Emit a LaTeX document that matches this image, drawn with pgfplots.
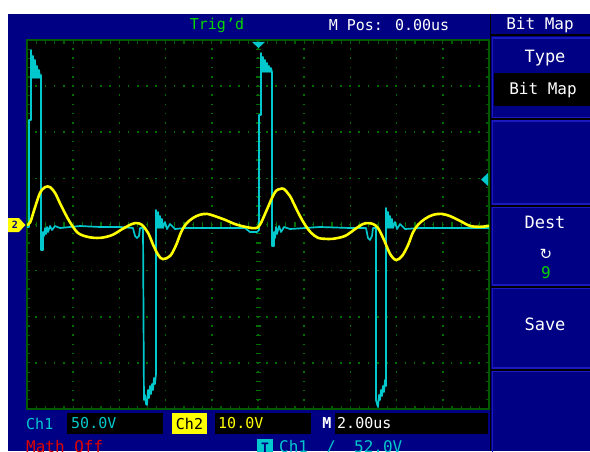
\documentclass[border=0pt]{standalone}
\usepackage{pgfplots}
\pgfplotsset{compat=1.18}
\usepackage{pgfplotstable}
\usepackage{fontspec}
\setmainfont{DejaVu Sans Mono}
\newfontfamily\symfont{DejaVu Sans}
\definecolor{scopeblue}{RGB}{0,0,132}
\definecolor{boxedge}{RGB}{25,25,190}
\definecolor{gridgreen}{RGB}{0,110,0}
\definecolor{bordergreen}{RGB}{0,90,0}
\definecolor{chcyan}{RGB}{0,200,205}
\definecolor{chyellow}{RGB}{255,255,0}
\definecolor{triggreen}{RGB}{0,215,0}
\definecolor{mathred}{RGB}{225,0,0}

% Ch1 (cyan) trace, x in divisions (2 us/div), y in divisions
\pgfplotstableread{
x y
0.000 -0.054
0.043 -0.054
0.043 2.266
0.087 2.266
0.087 3.783
0.108 3.176
0.130 3.653
0.152 3.176
0.173 3.566
0.195 3.176
0.216 3.436
0.238 3.176
0.260 3.350
0.281 3.176
0.303 3.241
0.303 -0.553
0.346 -0.553
0.346 -0.163
0.368 -0.249
0.390 -0.076
0.411 -0.206
0.433 -0.054
0.455 -0.163
0.498 -0.033
0.541 -0.119
0.606 -0.033
0.714 -0.076
1.147 -0.033
1.580 -0.054
2.013 -0.054
2.294 -0.076
2.338 -0.249
2.381 -0.293
2.424 -0.249
2.446 -0.076
2.511 -0.076
2.532 -3.805
2.554 -3.696
2.576 -3.892
2.597 -3.913
2.619 -3.588
2.641 -3.761
2.662 -3.501
2.684 -3.675
2.706 -3.458
2.727 -3.588
2.749 -3.328
2.771 -3.458
2.792 -3.241
2.792 0.314
2.814 -0.076
2.835 0.271
2.857 -0.076
2.879 0.184
2.900 -0.076
2.922 0.119
2.944 -0.076
2.987 0.054
3.030 -0.098
3.095 0.011
3.203 -0.098
3.420 -0.076
3.745 -0.076
4.177 -0.076
4.719 -0.076
4.827 -0.163
4.978 -0.163
5.022 -0.119
5.022 2.374
5.065 2.374
5.065 3.718
5.087 3.306
5.108 3.631
5.130 3.306
5.152 3.566
5.173 3.306
5.195 3.501
5.216 3.306
5.238 3.436
5.260 3.306
5.281 3.393
5.303 3.306
5.303 -0.466
5.346 -0.466
5.346 -0.163
5.368 -0.293
5.390 -0.054
5.411 -0.206
5.455 -0.033
5.498 -0.163
5.563 -0.054
5.693 -0.098
6.342 -0.054
6.991 -0.076
7.338 -0.076
7.381 -0.293
7.424 -0.336
7.468 -0.249
7.489 -0.076
7.554 -0.076
7.554 -3.805
7.576 -3.892
7.597 -3.957
7.619 -3.696
7.641 -3.805
7.662 -3.588
7.684 -3.718
7.706 -3.501
7.727 -3.631
7.749 -3.371
7.771 -3.501
7.771 0.358
7.792 -0.076
7.814 0.271
7.835 -0.076
7.857 0.184
7.879 -0.076
7.900 0.119
7.922 -0.076
7.965 0.054
8.009 -0.098
8.074 0.011
8.182 -0.098
8.506 -0.076
9.156 -0.076
10.000 -0.076
}\chone

% Ch2 (yellow) trace
\pgfplotstableread{
x y
0.00 -0.01
0.07 0.05
0.17 0.36
0.28 0.68
0.39 0.81
0.50 0.81
0.61 0.68
0.71 0.47
0.82 0.25
0.93 0.05
1.10 -0.18
1.32 -0.27
1.58 -0.29
1.84 -0.23
2.06 -0.10
2.27 0.01
2.38 0.03
2.49 -0.01
2.62 -0.18
2.73 -0.44
2.84 -0.66
2.94 -0.75
3.10 -0.68
3.23 -0.44
3.33 -0.18
3.44 0.01
3.59 0.14
3.74 0.21
3.90 0.23
4.07 0.18
4.29 0.10
4.50 0.01
4.72 -0.05
4.94 -0.08
5.04 -0.01
5.17 0.27
5.30 0.57
5.39 0.73
5.48 0.77
5.56 0.77
5.69 0.62
5.80 0.40
5.91 0.18
6.02 -0.01
6.15 -0.18
6.30 -0.29
6.45 -0.31
6.62 -0.31
6.88 -0.25
7.10 -0.10
7.27 0.01
7.38 0.03
7.49 0.01
7.60 -0.08
7.73 -0.34
7.86 -0.64
7.99 -0.77
8.12 -0.68
8.25 -0.44
8.35 -0.18
8.46 -0.01
8.61 0.12
8.79 0.21
8.98 0.23
9.16 0.18
9.37 0.08
9.59 -0.03
9.81 -0.05
10.00 -0.03
}\chtwo

\begin{document}
\begin{tikzpicture}
\useasboundingbox (0pt,0pt) rectangle (590pt,451pt);
\clip (0pt,0pt) rectangle (590pt,451pt);
\begin{scope}[x=1pt,y=1pt]
\fill[white] (0,0) rectangle (590,451);
\fill[scopeblue] (8,0) rectangle (590,437);
% right panel
\draw[boxedge, line width=1.2pt] (492.5,333) rectangle (591,413);
\draw[boxedge, line width=1.2pt] (492.5,247) rectangle (591,330);
\draw[boxedge, line width=1.2pt] (492.5,166) rectangle (591,244);
\draw[boxedge, line width=1.2pt] (492.5,83) rectangle (591,163);
\draw[boxedge, line width=1.2pt] (492.5,-2) rectangle (591,80);
\draw[black, line width=1.8pt] (490.5,0) -- (490.5,437);
\draw[black, line width=2pt] (490,415.5) -- (590,415.5);
\draw[black, line width=2pt] (490,331.5) -- (590,331.5);
\draw[black, line width=2pt] (490,245.5) -- (590,245.5);
\draw[black, line width=2pt] (490,164.5) -- (590,164.5);
\draw[black, line width=2pt] (490,81.5) -- (590,81.5);
\fill[black] (494,345) rectangle (590,378);
% bottom boxes
\fill[black] (67,17) rectangle (163,38);
\fill[chyellow] (172,17) rectangle (207,38);
\fill[black] (215,17) rectangle (311,38);
\fill[black] (335,17) rectangle (488,38);
\end{scope}

\begin{axis}[
  at={(27pt,42pt)}, anchor=south west, scale only axis,
  width=462pt, height=369pt,
  xmin=0, xmax=10, ymin=-4, ymax=4,
  xtick={0,1,...,10}, ytick={-4,-3,...,4}, minor tick num=4,
  xticklabels={}, yticklabels={},
  tick align=inside, major tick length=3.5pt, minor tick length=3.5pt,
  tick style={bordergreen, line width=1.2pt},
  axis line style={bordergreen, line width=1.6pt},
  grid=major,
  major grid style={gridgreen, line width=1.6pt, dash pattern=on 1.6pt off 7.63pt, dash phase=0.8pt},
  axis background/.style={fill=black},
]
\draw[gridgreen, line width=5pt, dash pattern=on 1.2pt off 8.025pt, dash phase=0.6pt] (axis cs:5,-4) -- (axis cs:5,4);
\draw[gridgreen, line width=5pt, dash pattern=on 1.2pt off 8.04pt, dash phase=0.6pt] (axis cs:0,0) -- (axis cs:10,0);
\addplot[chcyan, line width=1.7pt, line join=round] table {\chone};
\addplot[chyellow, line width=2.6pt, smooth, tension=0.55] table {\chtwo};
\end{axis}

\begin{scope}[x=1pt,y=1pt]
% markers
\fill[chyellow] (8,233) -- (19,233) -- (25.5,226) -- (19,219) -- (8,219) -- cycle;
\node[text=scopeblue, font=\bfseries\fontsize{10}{10}\selectfont, inner sep=0] at (15,226) {2};
\fill[chcyan] (488,278) -- (481,271.5) -- (488,265) -- cycle;
\fill[chcyan] (252,409) -- (265,409) -- (258.5,403) -- cycle;
% top bar
\node[text=triggreen, font=\fontsize{15}{15}\selectfont, inner sep=0] at (217,426) {Trig'd};
\node[text=white, font=\fontsize{15}{15}\selectfont, inner sep=0] at (389,426) {M Pos: 0.00us};
\node[text=white, font=\fontsize{16}{16}\selectfont, inner sep=0] at (540,426) {Bit Map};
% panel texts
\node[text=white, font=\fontsize{17}{17}\selectfont, inner sep=0] at (545,393) {Type};
\node[text=white, font=\fontsize{16}{16}\selectfont, inner sep=0] at (543,361) {Bit Map};
\node[text=white, font=\fontsize{17}{17}\selectfont, inner sep=0] at (545,229) {Dest};
\node[text=white, font=\symfont\fontsize{15}{15}\selectfont, inner sep=0] at (546,197) {↻};
\node[text=triggreen, font=\fontsize{16}{16}\selectfont, inner sep=0] at (546,178) {9};
\node[text=white, font=\fontsize{17}{17}\selectfont, inner sep=0] at (545,127) {Save};
% bottom row 1
\node[text=chcyan, font=\fontsize{15}{15}\selectfont, inner sep=0, anchor=west] at (26,27.5) {Ch1};
\node[text=chcyan, font=\fontsize{15}{15}\selectfont, inner sep=0, anchor=west] at (71,27.5) {50.0V};
\node[text=black, font=\fontsize{15}{15}\selectfont, inner sep=0] at (189.5,27.5) {Ch2};
\node[text=chyellow, font=\fontsize{15}{15}\selectfont, inner sep=0, anchor=west] at (218,27.5) {10.0V};
\node[text=white, font=\bfseries\fontsize{15}{15}\selectfont, inner sep=0] at (327,27.5) {M};
\node[text=white, font=\fontsize{15}{15}\selectfont, inner sep=0, anchor=west] at (337,27.5) {2.00us};
% bottom row 2 (cut off)
\node[text=mathred, font=\fontsize{16}{16}\selectfont, inner sep=0, anchor=base west] at (26,-1) {Math Off};
\fill[chcyan] (257,12) rectangle (273,-5);
\node[text=scopeblue, font=\bfseries\fontsize{13}{13}\selectfont, inner sep=0, anchor=base] at (265,-1) {T};
\node[text=chcyan, font=\fontsize{16}{16}\selectfont, inner sep=0, anchor=base west] at (279,-1) {Ch1};
\node[text=chcyan, font=\fontsize{16}{16}\selectfont, inner sep=0, anchor=base west] at (326,-1) {/};
\node[text=chcyan, font=\fontsize{16}{16}\selectfont, inner sep=0, anchor=base west] at (354,-1) {52.0V};
\end{scope}
\end{tikzpicture}
\end{document}
